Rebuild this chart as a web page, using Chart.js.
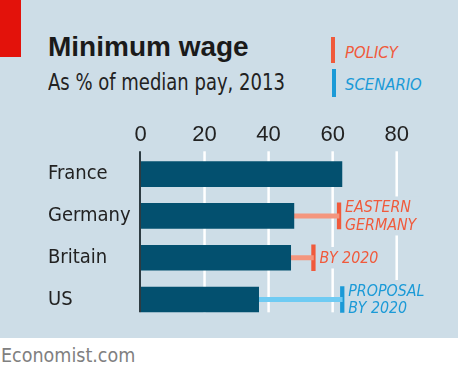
<!DOCTYPE html>
<html>
<head>
<meta charset="utf-8">
<title>Minimum wage</title>
<script src="https://cdn.jsdelivr.net/npm/chart.js@4.4.1/dist/chart.umd.min.js"></script>
<style>
  body { margin: 0; width: 458px; height: 376px; background: #fff; overflow: hidden; position: relative;
         font-family: 'DejaVu Sans Condensed', 'Liberation Sans', sans-serif; }
  #panel { position: absolute; left: 0; top: 0; width: 458px; height: 338px; background: #cddde7; }
  #tab { position: absolute; left: 0; top: 0; width: 21px; height: 57px; background: #e3120b; }
  .t { position: absolute; white-space: nowrap; line-height: 1; transform-origin: 0 0; }
  #title { left: 48px; top: 31px; font: bold 28px 'Liberation Sans', sans-serif; color: #1a1a1a; }
  #sub { left: 48px; top: 71px; font-size: 23px; color: #222; transform: scaleX(0.87); }
  .key { position: absolute; width: 4px; }
  .keytxt { font-style: italic; font-size: 16.5px; }
  #source { left: 1px; top: 346px; font-size: 19.5px; color: #808080; }
  #wrap { position: absolute; left: 0; top: 0; width: 458px; height: 338px; }
</style>
</head>
<body>
<div id="panel"></div>
<div id="tab"></div>
<div class="t" id="title">Minimum wage</div>
<div class="t" id="sub">As % of median pay, 2013</div>
<div class="key" style="left:331px; top:37px; height:26px; background:#f05a3c"></div>
<div class="t keytxt" style="left:345px; top:45px; color:#f05a3c">POLICY</div>
<div class="key" style="left:332px; top:69px; height:28px; background:#1b9ad7"></div>
<div class="t keytxt" style="left:345px; top:77px; color:#1b9ad7">SCENARIO</div>
<div class="t" id="source">Economist.com</div>
<div id="wrap"><canvas id="chart"></canvas></div>

<script>
// データ
const countries = ['France', 'Germany', 'Britain', 'US'];
const wage2013 = [63, 48, 47, 37];
const targets = [null, 62, 54, 63];
const targetKind = [null, 'policy', 'policy', 'scenario'];
const targetNotes = [[], ['EASTERN', 'GERMANY'], ['BY 2020'], ['PROPOSAL', 'BY 2020']];
const xTicks = [0, 20, 40, 60, 80];

const condensed = "'DejaVu Sans Condensed', 'Liberation Sans', sans-serif";
const panelBg = '#cddde7';
const markColor = { policy: '#f05a3c', scenario: '#1b9ad7' };
const linkColor = { policy: '#f4967e', scenario: '#6fcbf3' };

// グリッド線（バーの下端まで）
const guides = {
    id: 'guides',
    beforeDatasetsDraw(chart) {
        const { ctx, chartArea, scales: { x } } = chart;
        const bars = chart.getDatasetMeta(0).data;
        const last = bars[bars.length - 1];
        const bottom = last.y + last.height / 2;
        ctx.save();
        ctx.strokeStyle = '#ffffff';
        ctx.lineWidth = 2.5;
        xTicks.slice(1).forEach(v => {
            const px = x.getPixelForValue(v);
            ctx.beginPath();
            ctx.moveTo(px, chartArea.top - 2);
            ctx.lineTo(px, bottom);
            ctx.stroke();
        });
        ctx.restore();
    },
    afterDatasetsDraw(chart) {
        const { ctx, chartArea, scales: { x } } = chart;
        const bars = chart.getDatasetMeta(0).data;
        const last = bars[bars.length - 1];
        const px = x.getPixelForValue(0);
        ctx.save();
        ctx.strokeStyle = '#2d3b42';
        ctx.lineWidth = 2;
        ctx.beginPath();
        ctx.moveTo(px - 0.5, chartArea.top - 2);
        ctx.lineTo(px - 0.5, last.y + last.height / 2);
        ctx.stroke();
        ctx.restore();
    }
};

// 注記テキスト
const notes = {
    id: 'notes',
    afterDatasetsDraw(chart) {
        const { ctx } = chart;
        const pts = chart.getDatasetMeta(2).data;
        const lh = 17.5;
        ctx.save();
        ctx.font = 'italic 15.8px ' + condensed;
        ctx.textBaseline = 'middle';
        targetNotes.forEach((lines, i) => {
            if (!lines.length || !pts[i]) return;
            const p = pts[i];
            const x0 = p.x + 6;
            const y0 = p.y - (lines.length - 1) * lh / 2;
            const w = Math.max(...lines.map(l => ctx.measureText(l).width));
            ctx.fillStyle = panelBg;
            ctx.fillRect(x0 - 1, y0 - lh / 2 - 2, w + 4, lines.length * lh + 4);
            ctx.fillStyle = markColor[targetKind[i]];
            lines.forEach((l, j) => ctx.fillText(l, x0, y0 + j * lh + 1));
        });
        ctx.restore();
    }
};

new Chart(document.getElementById('chart'), {
    type: 'bar',
    data: {
        labels: countries,
        datasets: [{
            data: wage2013,
            backgroundColor: '#03506f',
            categoryPercentage: 1,
            barPercentage: 0.615
        }, {
            data: targets.map((t, i) => t == null ? null : [wage2013[i], t]),
            backgroundColor: targetKind.map(k => k ? linkColor[k] : 'transparent'),
            grouped: false,
            barThickness: 4.3
        }, {
            type: 'line',
            data: targets,
            showLine: false,
            pointStyle: 'line',
            pointRotation: 90,
            pointRadius: 13.33,
            pointHoverRadius: 13.33,
            pointBorderWidth: 4.3,
            pointBorderColor: targetKind.map(k => k ? markColor[k] : 'transparent'),
            borderColor: '#f05a3c'
        }]
    },
    options: {
        indexAxis: 'y',
        responsive: true,
        maintainAspectRatio: false,
        animation: false,
        events: [],
        layout: { padding: { left: 48, top: 123.3, right: 61.3, bottom: 11.3 } },
        plugins: { legend: { display: false }, tooltip: { enabled: false } },
        scales: {
            x: {
                position: 'top',
                min: 0,
                max: 80,
                afterBuildTicks: s => { s.ticks = xTicks.map(v => ({ value: v })); },
                afterFit: s => { s.height = 30; },
                grid: { display: false, drawTicks: false },
                border: { display: false },
                ticks: { padding: 5.5, color: '#222', font: { family: "'Liberation Sans', sans-serif", size: 22, lineHeight: 1.2 } }
            },
            y: {
                afterFit: s => { s.width = 92.5; },
                grid: { display: false, drawTicks: false },
                border: { display: false },
                ticks: { crossAlign: 'far', color: '#222', font: { family: condensed, size: 20 } }
            }
        }
    },
    plugins: [guides, notes]
});
</script>
</body>
</html>
